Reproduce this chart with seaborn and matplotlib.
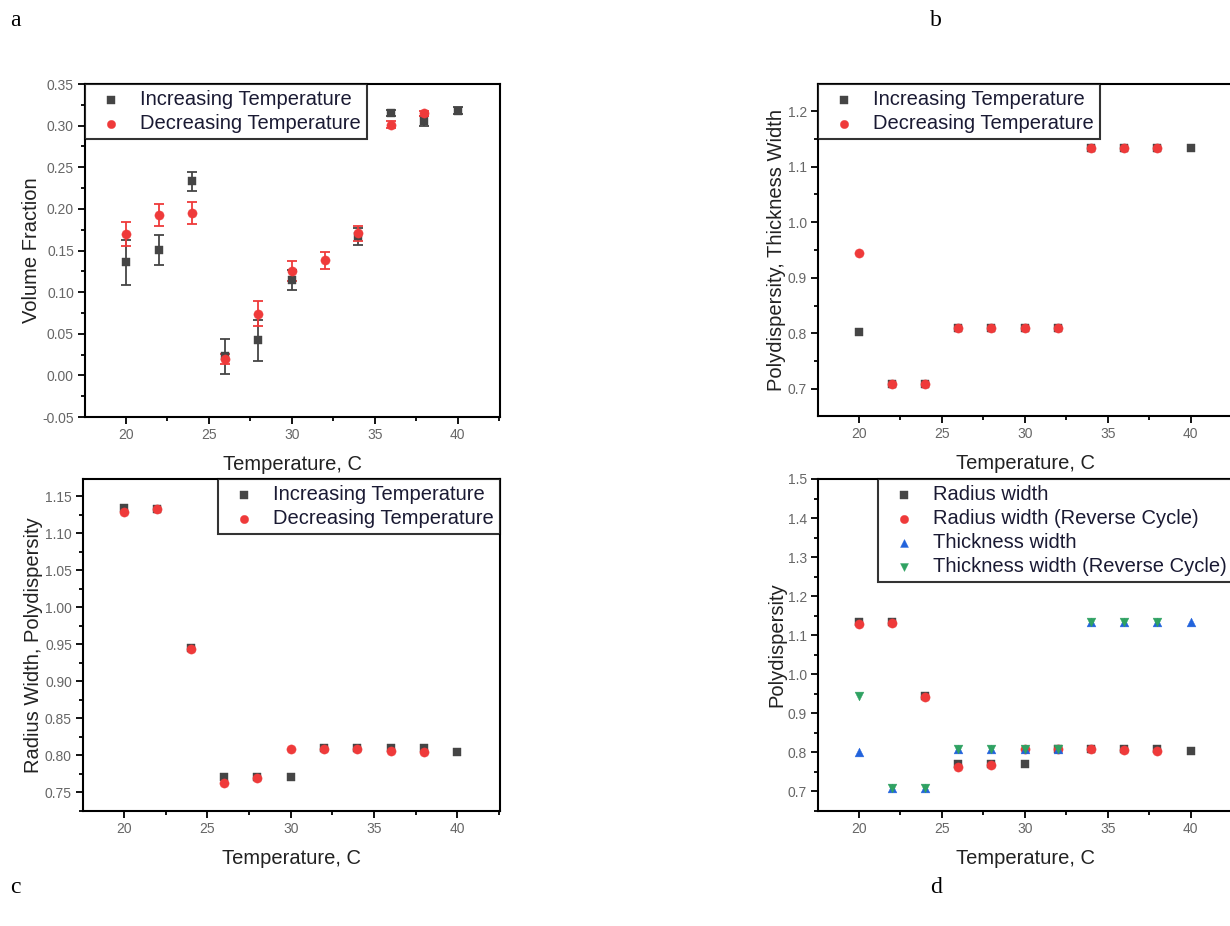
import numpy as np
import pandas as pd
import matplotlib
matplotlib.use("Agg")
import matplotlib.pyplot as plt
from matplotlib.ticker import MultipleLocator, FormatStrFormatter
import seaborn as sns

sns.set_style("ticks")
plt.rcParams["font.family"] = ["Liberation Sans", "DejaVu Sans"]

# ---- panel a: volume fraction ----
temp_inc_a = [20, 22, 24, 26, 28, 30, 34, 36, 38, 40]
vf_inc = [0.136, 0.151, 0.233, 0.023, 0.042, 0.114, 0.167, 0.315, 0.305, 0.318]
vf_inc_err = [0.027, 0.018, 0.011, 0.021, 0.025, 0.012, 0.010, 0.004, 0.006, 0.004]
temp_dec_a = [20, 22, 24, 26, 28, 30, 32, 34, 36, 38]
vf_dec = [0.170, 0.193, 0.195, 0.020, 0.074, 0.125, 0.138, 0.171, 0.301, 0.315]
vf_dec_err = [0.014, 0.013, 0.013, 0.006, 0.015, 0.012, 0.010, 0.009, 0.004, 0.003]

# ---- panel b: thickness width polydispersity ----
temp_inc_b = [20, 22, 24, 26, 28, 30, 32, 34, 36, 38, 40]
thick_inc = [0.802, 0.709, 0.709, 0.810, 0.810, 0.810, 0.810, 1.133, 1.133, 1.133, 1.133]
temp_dec_b = [20, 22, 24, 26, 28, 30, 32, 34, 36, 38]
thick_dec = [0.944, 0.709, 0.709, 0.809, 0.809, 0.809, 0.809, 1.133, 1.133, 1.133]

# ---- panel c: radius width polydispersity ----
temp_inc_c = [20, 22, 24, 26, 28, 30, 32, 34, 36, 38, 40]
rad_inc = [1.134, 1.133, 0.945, 0.770, 0.770, 0.770, 0.809, 0.809, 0.809, 0.810, 0.804]
temp_dec_c = [20, 22, 24, 26, 28, 30, 32, 34, 36, 38]
rad_dec = [1.129, 1.132, 0.943, 0.762, 0.769, 0.808, 0.808, 0.808, 0.806, 0.804]

labels_ab = ["Increasing Temperature", "Decreasing Temperature"]
labels_d = ["Radius width", "Radius width (Reverse Cycle)",
            "Thickness width", "Thickness width (Reverse Cycle)"]
xlabel = "Temperature, C"

c_black = "#454545"
c_red = "#ef3a3a"
c_blue = "#2263dc"
c_green = "#2fa262"

W, H = 1230, 926
fig = plt.figure(figsize=(W / 100, H / 100), dpi=100)


def make_axes(left, top, right, bottom):
    return fig.add_axes([left / W, 1 - bottom / H, (right - left) / W, (bottom - top) / H])


def style_axes(ax, ylim, ymaj, ylabel, fmt):
    ax.set_xlim(17.55, 42.55)
    ax.set_ylim(*ylim)
    ax.xaxis.set_major_locator(MultipleLocator(5))
    ax.xaxis.set_minor_locator(MultipleLocator(2.5))
    ax.yaxis.set_major_locator(MultipleLocator(ymaj))
    ax.yaxis.set_minor_locator(MultipleLocator(ymaj / 2))
    ax.yaxis.set_major_formatter(FormatStrFormatter(fmt))
    ax.tick_params(which="both", direction="out", top=False, right=False,
                   color="black", width=1.3)
    ax.tick_params(which="major", length=5, labelsize=10, labelcolor="#666666", pad=3)
    ax.tick_params(which="minor", length=3)
    for s in ax.spines.values():
        s.set_visible(True)
        s.set_linewidth(1.5)
        s.set_color("black")
    ax.set_xlabel(xlabel, fontsize=14.5, color="#222222", labelpad=9)
    ax.set_ylabel(ylabel, fontsize=14.5, color="#222222", labelpad=1)


def points(ax, x, y, color, marker, label, size=34):
    df = pd.DataFrame({"T": x, "v": y})
    sns.scatterplot(data=df, x="T", y="v", ax=ax, color=color, marker=marker,
                    s=size, edgecolor=color, linewidth=0.3, label=label, zorder=3)


def legend(ax, loc):
    leg = ax.legend(loc=loc, fontsize=14.5, frameon=True, fancybox=False,
                    borderaxespad=0.0, handlelength=2.0, handletextpad=0.45,
                    borderpad=0.3, labelspacing=0.25, markerscale=0.9)
    leg.get_frame().set_edgecolor("black")
    leg.get_frame().set_linewidth(1.5)
    for t in leg.get_texts():
        t.set_color("#1a1a33")
    return leg


# panel a
ax_a = make_axes(85, 84, 500, 417)
ax_a.errorbar(temp_inc_a, vf_inc, yerr=vf_inc_err, fmt="none", ecolor=c_black,
              elinewidth=1.3, capsize=3.5, capthick=1.3, zorder=2)
ax_a.errorbar(temp_dec_a, vf_dec, yerr=vf_dec_err, fmt="none", ecolor=c_red,
              elinewidth=1.3, capsize=3.5, capthick=1.3, zorder=2)
points(ax_a, temp_inc_a, vf_inc, c_black, "s", labels_ab[0])
points(ax_a, temp_dec_a, vf_dec, c_red, "o", labels_ab[1], size=44)
style_axes(ax_a, (-0.05, 0.35), 0.05, "Volume Fraction", "%.2f")
legend(ax_a, "upper left")

# panel b
ax_b = make_axes(818, 84, 1233, 416)
points(ax_b, temp_inc_b, thick_inc, c_black, "s", labels_ab[0])
points(ax_b, temp_dec_b, thick_dec, c_red, "o", labels_ab[1], size=44)
style_axes(ax_b, (0.651, 1.249), 0.1, "Polydispersity, Thickness Width", "%.1f")
legend(ax_b, "upper left")

# panel c
ax_c = make_axes(83, 479, 500, 811)
points(ax_c, temp_inc_c, rad_inc, c_black, "s", labels_ab[0])
points(ax_c, temp_dec_c, rad_dec, c_red, "o", labels_ab[1], size=44)
style_axes(ax_c, (0.7245, 1.173), 0.05, "Radius Width, Polydispersity", "%.2f")
legend(ax_c, "upper right")

# panel d: both widths together
ax_d = make_axes(818, 479, 1233, 811)
points(ax_d, temp_inc_c, rad_inc, c_black, "s", labels_d[0])
points(ax_d, temp_dec_c, rad_dec, c_red, "o", labels_d[1], size=44)
points(ax_d, temp_inc_b, thick_inc, c_blue, "^", labels_d[2], size=40)
points(ax_d, temp_dec_b, thick_dec, c_green, "v", labels_d[3], size=40)
style_axes(ax_d, (0.65, 1.5), 0.1, "Polydispersity", "%.1f")
legend(ax_d, "upper right")

# panel letters
for letter, x, y in [("a", 10, 26), ("b", 930, 26), ("c", 10, 893), ("d", 930, 893)]:
    fig.text(x / W, 1 - y / H, letter, fontsize=17,
             family=["Liberation Serif", "DejaVu Serif"], color="black")

fig.savefig("out.png", dpi=100)
